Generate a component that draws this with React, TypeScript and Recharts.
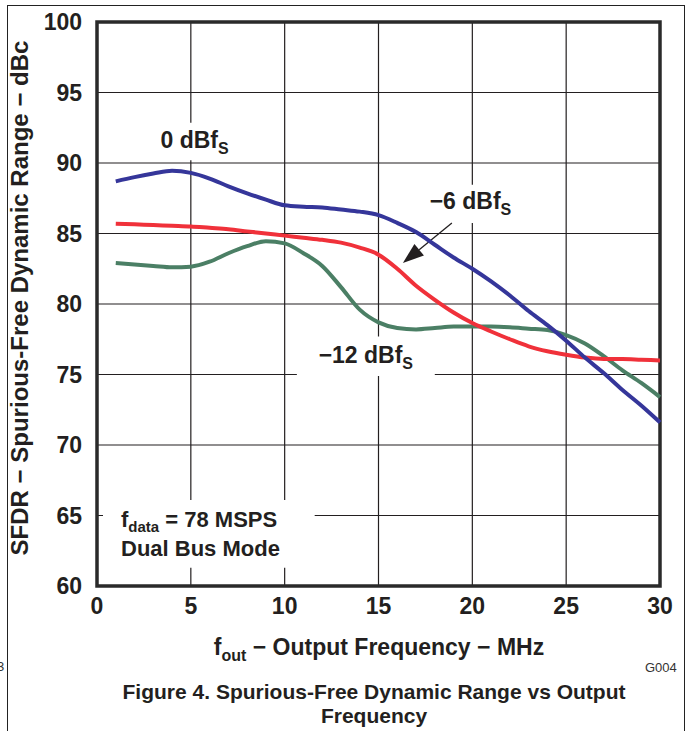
import React from "react";
import {
  LineChart,
  Line,
  XAxis,
  YAxis,
  CartesianGrid,
  ReferenceArea,
  ReferenceLine,
} from "recharts";

const FONT = "'Liberation Sans', Arial, Helvetica, sans-serif";
const INK = "#231f20";

// output frequency, MHz
const freqMHz = [
  1, 2, 3, 4, 5, 6, 7, 8, 9, 10, 11, 12, 13, 14, 15, 16, 17, 18, 19, 20, 21,
  22, 23, 24, 25, 26, 27, 28, 29, 30,
];
// SFDR in dBc, one list per input level
const sfdr0dBfs = [
  88.7, 89.0, 89.25, 89.45, 89.3, 88.9, 88.35, 87.85, 87.4, 87.0, 86.9, 86.85,
  86.7, 86.55, 86.3, 85.75, 85.1, 84.2, 83.3, 82.5, 81.6, 80.6, 79.5, 78.5,
  77.4, 76.2, 75.1, 73.9, 72.8, 71.6,
];
const sfdrMinus6dBfs = [
  85.7, 85.65, 85.6, 85.55, 85.5, 85.4, 85.3, 85.15, 85.0, 84.85, 84.7, 84.55,
  84.35, 84.0, 83.5, 82.5, 81.3, 80.3, 79.4, 78.65, 78.05, 77.5, 77.0, 76.65,
  76.4, 76.2, 76.1, 76.1, 76.05, 76.0,
];
const sfdrMinus12dBfs = [
  82.9, 82.8, 82.7, 82.6, 82.65, 83.0, 83.6, 84.1, 84.45, 84.3, 83.6, 82.7,
  81.2, 79.6, 78.7, 78.3, 78.2, 78.3, 78.4, 78.4, 78.4, 78.35, 78.25, 78.15,
  77.8, 77.2, 76.3, 75.3, 74.4, 73.4,
];

const xTicks = [0, 5, 10, 15, 20, 25, 30];
const yTicks = [60, 65, 70, 75, 80, 85, 90, 95, 100];

const data = freqMHz.map((f, i) => ({
  f,
  s0: sfdr0dBfs[i],
  s6: sfdrMinus6dBfs[i],
  s12: sfdrMinus12dBfs[i],
}));

const tickStyle = {
  fontSize: 23,
  fontWeight: "bold",
  fontFamily: FONT,
  fill: INK,
};

// curve name with subscript S, centred in its white box
function curveLabel(text: string, baseline: number) {
  return (props: any) => {
    const { x, y, width } = props.viewBox;
    return (
      <text
        x={x + width / 2}
        y={y + baseline}
        textAnchor="middle"
        fontFamily={FONT}
        fontWeight="bold"
        fontSize={23}
        fill={INK}
        xmlSpace="preserve"
      >
        <tspan>{text}</tspan>
        <tspan fontSize={16} dy={6}>
          S
        </tspan>
      </text>
    );
  };
}

const modeLabel = (props: any) => {
  const { x, y } = props.viewBox;
  return (
    <text
      fontFamily={FONT}
      fontWeight="bold"
      fontSize={22}
      fill={INK}
      xmlSpace="preserve"
    >
      <tspan x={x + 18} y={y + 27}>
        f
      </tspan>
      <tspan fontSize={15} dy={5}>
        data
      </tspan>
      <tspan dy={-5}> = 78 MSPS</tspan>
      <tspan x={x + 18} y={y + 56}>
        Dual Bus Mode
      </tspan>
    </text>
  );
};

const arrowShape = (props: any) => {
  const { x1, y1, x2, y2 } = props;
  const a = Math.atan2(y2 - y1, x2 - x1);
  const len = 21;
  const half = 7.5;
  const bx = x2 - len * Math.cos(a);
  const by = y2 - len * Math.sin(a);
  const pts = [
    [x2, y2],
    [bx + half * Math.sin(a), by - half * Math.cos(a)],
    [bx - half * Math.sin(a), by + half * Math.cos(a)],
  ]
    .map((p) => p.join(","))
    .join(" ");
  return (
    <g>
      <line x1={x1} y1={y1} x2={bx} y2={by} stroke={INK} strokeWidth={1.3} />
      <polygon points={pts} fill={INK} />
    </g>
  );
};

const yTitle = () => (
  <text
    x={28}
    y={298}
    transform="rotate(-90 28 298)"
    textAnchor="middle"
    fontFamily={FONT}
    fontWeight="bold"
    fontSize={24}
    fill={INK}
  >
    SFDR − Spurious-Free Dynamic Range − dBc
  </text>
);

const xTitle = () => (
  <g fontFamily={FONT} fill={INK}>
    <text
      x={379}
      y={655}
      textAnchor="middle"
      fontWeight="bold"
      fontSize={23}
      xmlSpace="preserve"
    >
      <tspan>f</tspan>
      <tspan fontSize={16} dy={6}>
        out
      </tspan>
      <tspan dy={-6}> − Output Frequency − MHz</tspan>
    </text>
    <text x={374} y={699} textAnchor="middle" fontWeight="bold" fontSize={21}>
      Figure 4. Spurious-Free Dynamic Range vs Output
    </text>
    <text x={374} y={723} textAnchor="middle" fontWeight="bold" fontSize={21}>
      Frequency
    </text>
    <text x={645} y={672} fontSize={13} fill="#333">
      G004
    </text>
    <text x={-3} y={671} fontSize={13} fill="#333">
      3
    </text>
  </g>
);

export default function App() {
  return (
    <div
      style={{
        position: "absolute",
        left: 0,
        top: 0,
        width: 687,
        height: 731,
        overflow: "hidden",
        background: "#fff",
      }}
    >
      {/* page frame */}
      <div
        style={{
          position: "absolute",
          left: 7,
          top: 5,
          width: 676,
          height: 760,
          borderLeft: "1.5px solid #222",
          borderTop: "1.5px solid #222",
          borderRight: "1.5px solid #222",
        }}
      />
      <div style={{ position: "absolute", left: 0, top: 0 }}>
        <LineChart
          width={687}
          height={731}
          data={data}
          margin={{ top: 22, right: 27, bottom: 105, left: 37 }}
        >
          <CartesianGrid stroke={INK} strokeWidth={1.2} />
          <XAxis
            dataKey="f"
            type="number"
            domain={[0, 30]}
            ticks={xTicks}
            tick={tickStyle}
            tickLine={false}
            axisLine={false}
            tickSize={0}
            tickMargin={12}
            height={40}
            label={{ content: xTitle }}
          />
          <YAxis
            type="number"
            domain={[60, 100]}
            ticks={yTicks}
            tick={tickStyle}
            tickLine={false}
            axisLine={false}
            tickSize={0}
            tickMargin={15}
            width={60}
            label={{ content: yTitle }}
          />
          <ReferenceArea
            x1={2.8}
            x2={7.6}
            y1={90.2}
            y2={92.85}
            fill="#fff"
            fillOpacity={1}
            stroke="none"
            label={curveLabel("0 dBf", 25)}
          />
          <ReferenceArea
            x1={17.2}
            x2={22.6}
            y1={85.75}
            y2={88.45}
            fill="#fff"
            fillOpacity={1}
            stroke="none"
            label={curveLabel("−6 dBf", 24)}
          />
          <ReferenceArea
            x1={10.65}
            x2={18.0}
            y1={74.9}
            y2={77.7}
            fill="#fff"
            fillOpacity={1}
            stroke="none"
            label={curveLabel("−12 dBf", 27)}
          />
          <ReferenceArea
            x1={0.32}
            x2={11.6}
            y1={61.3}
            y2={66.1}
            fill="#fff"
            fillOpacity={1}
            stroke="none"
            label={modeLabel}
          />
          <ReferenceLine
            segment={[
              { x: 18.91, y: 85.74 },
              { x: 16.3, y: 82.91 },
            ]}
            shape={arrowShape}
          />
          <Line
            type="monotone"
            dataKey="s12"
            stroke="#4b7f65"
            strokeWidth={4}
            dot={false}
            isAnimationActive={false}
          />
          <Line
            type="monotone"
            dataKey="s6"
            stroke="#f0313a"
            strokeWidth={4}
            dot={false}
            isAnimationActive={false}
          />
          <Line
            type="monotone"
            dataKey="s0"
            stroke="#35369a"
            strokeWidth={4}
            dot={false}
            isAnimationActive={false}
          />
          <ReferenceArea
            x1={0}
            x2={30}
            y1={60}
            y2={100}
            fill="none"
            stroke="#2a2a2a"
            strokeWidth={3.5}
          />
        </LineChart>
      </div>
    </div>
  );
}
